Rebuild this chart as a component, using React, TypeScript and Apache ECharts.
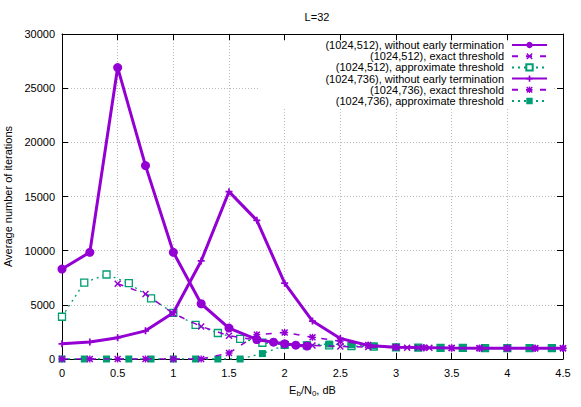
import React, { useEffect, useRef } from "react";
import * as echarts from "echarts";

const PURPLE = "#9400D3";
const GREEN = "#009E73";
const FONT = "'Liberation Sans', Arial, sans-serif";

const xTickLabels = ["0", "0.5", "1", "1.5", "2", "2.5", "3", "3.5", "4", "4.5"];
const yTickLabels = ["0", "5000", "10000", "15000", "20000", "25000", "30000"];

const seriesNames = [
  "(1024,512), without early termination",
  "(1024,512), exact threshold",
  "(1024,512), approximate threshold",
  "(1024,736), without early termination",
  "(1024,736), exact threshold",
  "(1024,736), approximate threshold",
];

const s1x = [0, 0.25, 0.5, 0.75, 1, 1.25, 1.5, 1.75, 1.9, 2.0, 2.1, 2.2];
const s1y = [8300, 9850, 26900, 17850, 9850, 5100, 2850, 1800, 1550, 1400, 1280, 1200];

const s2x = [0.5, 0.75, 1, 1.25, 1.5, 1.75, 2, 2.25, 2.5, 2.75, 3, 3.1, 3.2, 3.3, 3.5, 3.75, 4, 4.25, 4.5];
const s2y = [6950, 6000, 4200, 3000, 2150, 1750, 1400, 1250, 1150, 1100, 1060, 1050, 1040, 1030, 1010, 1000, 1000, 990, 990];

const s3x = [0, 0.2, 0.4, 0.6, 0.8, 1.0, 1.2, 1.4, 1.6, 1.8, 2.0, 2.2, 2.4, 2.6, 2.8, 3.0, 3.2, 3.4, 3.6, 3.8, 4.0, 4.2, 4.4];
const s3y = [3900, 7050, 7800, 7000, 5600, 4250, 3150, 2400, 1850, 1500, 1300, 1250, 1250, 1200, 1150, 1080, 1050, 1030, 1020, 1010, 1000, 1000, 1000];

const s4x = [0, 0.25, 0.5, 0.75, 1, 1.25, 1.5, 1.75, 2, 2.25, 2.5, 2.75, 3, 3.25, 3.5, 3.75, 4, 4.25, 4.5];
const s4y = [1400, 1570, 1970, 2600, 4270, 9050, 15450, 12800, 7000, 3500, 1900, 1250, 1080, 1050, 1020, 1000, 1000, 990, 990];

const s5x = [0, 0.25, 0.5, 0.75, 1, 1.25, 1.5, 1.75, 2, 2.25, 2.5, 2.75, 3, 3.25, 3.5, 3.75, 4, 4.25, 4.5];
const s5y = [0, 0, 0, 0, 0, 0, 550, 2250, 2450, 2000, 1650, 1300, 1100, 1050, 1020, 1000, 1000, 990, 990];

const s6x = [0, 0.2, 0.4, 0.6, 0.8, 1.0, 1.2, 1.4, 1.6, 1.8, 2.0, 2.2, 2.4, 2.6, 2.8, 3.0, 3.2, 3.4, 3.6, 3.8, 4.0, 4.2, 4.4];
const s6y = [0, 0, 0, 0, 0, 0, 0, 0, 0, 500, 1250, 1300, 1380, 1320, 1200, 1080, 1050, 1030, 1020, 1010, 1010, 1000, 1000];

const zip = (xs: number[], ys: number[]) => xs.map((x, i) => [x, ys[i]]);

const X_SYM =
  "path://M0.3,0 L1,0.7 L1.7,0 L2,0.3 L1.3,1 L2,1.7 L1.7,2 L1,1.3 L0.3,2 L0,1.7 L0.7,1 L0,0.3 Z";
const STAR_SYM =
  "path://M0.3,0 L1,0.7 L1.7,0 L2,0.3 L1.3,1 L2,1.7 L1.7,2 L1,1.3 L0.3,2 L0,1.7 L0.7,1 L0,0.3 Z M0.8,0 L1.2,0 L1.2,2 L0.8,2 Z M0,0.8 L2,0.8 L2,1.2 L0,1.2 Z";
const PLUS_SYM = "path://M0.75,0 L1.25,0 L1.25,0.75 L2,0.75 L2,1.25 L1.25,1.25 L1.25,2 L0.75,2 L0.75,1.25 L0,1.25 L0,0.75 L0.75,0.75 Z";

export default function App() {
  const ref = useRef<HTMLDivElement>(null);
  useEffect(() => {
    if (!ref.current) return;
    const chart = echarts.init(ref.current, null, { renderer: "svg" });
    const xMin = Number(xTickLabels[0]);
    const xMax = Number(xTickLabels[xTickLabels.length - 1]);
    const yMax = Number(yTickLabels[yTickLabels.length - 1]);
    const axisCommon = {
      type: "value" as const,
      axisLine: { show: true, onZero: false, lineStyle: { color: "#000", width: 1 } },
      axisTick: { show: true, inside: true, length: 6, lineStyle: { color: "#000" } },
    };
    const xBase = { ...axisCommon, min: xMin, max: xMax, interval: 0.5 };
    const yBase = { ...axisCommon, min: 0, max: yMax, interval: 5000 };

    const legendTops = [39.5, 50.7, 61.9, 73.1, 84.3, 95.5];
    const legends = seriesNames.map((n, i) => ({
      data: [n],
      right: 33,
      top: legendTops[i],
      align: "right",
      orient: "vertical",
      itemWidth: 35,
      itemHeight: 8,
      padding: 0,
      selectedMode: false,
      z: 5,
      textStyle: { fontFamily: FONT, fontSize: 11, color: "#000", padding: [0, 3, 0, 0] },
    }));

    chart.setOption({
      animation: false,
      backgroundColor: "#fff",
      title: {
        text: "L=32",
        left: 312,
        top: 6,
        textAlign: "center",
        textStyle: { fontFamily: FONT, fontSize: 11, fontWeight: "normal", color: "#000" },
      },
      grid: { left: 62, right: 18, top: 34, bottom: 48, containLabel: false, outerBoundsMode: "none" },
      legend: legends,
      graphic: [
        {
          type: "rect",
          z: 1,
          shape: { x: 258, y: 41, width: 296, height: 66 },
          style: { fill: "#fff" },
          silent: true,
        },
      ],
      xAxis: [
        {
          ...xBase,
          position: "bottom",
          name: "{a|E}{s|b}{a|/N}{s|0}{a|, dB}",
          nameLocation: "middle",
          nameGap: 21,
          nameTextStyle: {
            fontFamily: FONT,
            color: "#000",
            rich: {
              a: { fontFamily: FONT, fontSize: 11, color: "#000", lineHeight: 14 },
              s: { fontFamily: FONT, fontSize: 8, color: "#000", padding: [7, 0, 0, 0], lineHeight: 14 },
            },
          },
          axisLabel: {
            fontFamily: FONT,
            fontSize: 11,
            color: "#000",
            margin: 8,
            formatter: (v: number) => {
              const idx = Math.round((v - xMin) / 0.5);
              return xTickLabels[idx] ?? String(v);
            },
          },
          splitLine: { show: true, lineStyle: { color: "#bbb", type: [1, 2], width: 1 } },
        },
        {
          ...xBase,
          position: "top",
          axisLabel: { show: false },
          splitLine: { show: false },
        },
      ],
      yAxis: [
        {
          ...yBase,
          position: "left",
          name: "Average number of iterations",
          nameLocation: "middle",
          nameGap: 42,
          nameTextStyle: { fontFamily: FONT, fontSize: 11, color: "#000" },
          axisLabel: {
            fontFamily: FONT,
            fontSize: 11,
            color: "#000",
            margin: 7,
            formatter: (v: number) => yTickLabels[Math.round(v / 5000)] ?? String(v),
          },
          splitLine: { show: true, lineStyle: { color: "#bbb", type: [1, 2], width: 1 } },
        },
        {
          ...yBase,
          position: "right",
          axisLabel: { show: false },
          splitLine: { show: false },
        },
      ],
      series: [
        {
          name: seriesNames[0],
          type: "line",
          data: zip(s1x, s1y),
          symbol: "circle",
          symbolSize: 9,
          lineStyle: { color: PURPLE, width: 3 },
          itemStyle: { color: PURPLE },
          z: 6,
        },
        {
          name: seriesNames[1],
          type: "line",
          data: zip(s2x, s2y),
          symbol: X_SYM,
          symbolSize: 7,
          lineStyle: { color: PURPLE, width: 1.5, type: [6, 8] },
          itemStyle: { color: PURPLE },
          z: 4,
        },
        {
          name: seriesNames[2],
          type: "line",
          data: zip(s3x, s3y),
          symbol: "rect",
          symbolSize: 7,
          lineStyle: { color: GREEN, width: 1.3, type: [2, 4] },
          itemStyle: { color: "#fff", borderColor: GREEN, borderWidth: 1.3 },
          z: 3,
        },
        {
          name: seriesNames[3],
          type: "line",
          data: zip(s4x, s4y),
          symbol: PLUS_SYM,
          symbolSize: 7,
          lineStyle: { color: PURPLE, width: 3 },
          itemStyle: { color: PURPLE },
          z: 5,
        },
        {
          name: seriesNames[4],
          type: "line",
          data: zip(s5x, s5y),
          symbol: STAR_SYM,
          symbolSize: 7,
          lineStyle: { color: PURPLE, width: 1.5, type: [6, 8] },
          itemStyle: { color: PURPLE },
          z: 4,
        },
        {
          name: seriesNames[5],
          type: "line",
          data: zip(s6x, s6y),
          symbol: "rect",
          symbolSize: 7,
          lineStyle: { color: GREEN, width: 1.3, type: [2, 4] },
          itemStyle: { color: GREEN },
          z: 3,
        },
      ],
    });
    return () => chart.dispose();
  }, []);
  return <div ref={ref} style={{ width: 581, height: 407, position: "fixed", left: 0, top: 0 }} />;
}
